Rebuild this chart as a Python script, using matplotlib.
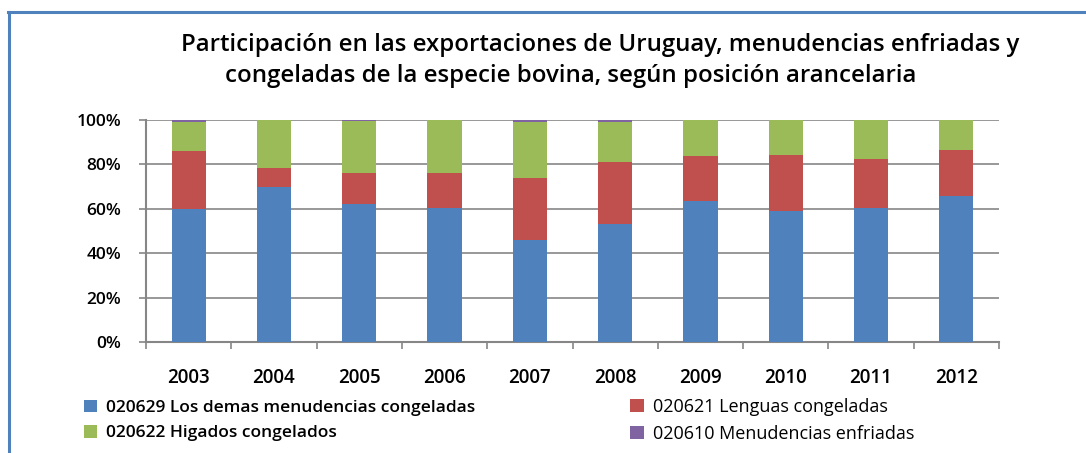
import matplotlib
matplotlib.use("Agg")
import matplotlib.pyplot as plt
from matplotlib.patches import Patch
from matplotlib.lines import Line2D
import numpy as np

years = ["2003", "2004", "2005", "2006", "2007", "2008", "2009", "2010", "2011", "2012"]
s_020629 = [59.8, 69.8, 62.3, 60.4, 46.1, 53.3, 63.5, 59.0, 60.4, 65.9]
s_020621 = [26.2, 8.6, 13.8, 15.7, 27.8, 27.8, 20.3, 25.2, 22.0, 20.6]
s_020622 = [13.3, 21.6, 23.3, 23.9, 25.3, 18.2, 16.2, 15.8, 17.6, 13.5]
s_020610 = [0.7, 0.0, 0.6, 0.0, 0.8, 0.7, 0.0, 0.0, 0.0, 0.0]
series_names = ["020629 Los demas menudencias congeladas",
                "020621 Lenguas congeladas",
                "020622 Higados congelados",
                "020610 Menudencias enfriadas"]
yticks = [0, 20, 40, 60, 80, 100]
ytick_labels = ["0%", "20%", "40%", "60%", "80%", "100%"]
title_line1 = "Participación en las exportaciones de Uruguay, menudencias enfriadas y"
title_line2 = "congeladas de la especie bovina, según posición arancelaria"

colors = ["#4F81BD", "#C0504D", "#9BBB59", "#8064A2"]
FONT = "Open Sans"

W, H = 1086, 453
fig = plt.figure(figsize=(W / 100, H / 100), dpi=100)
fig.patch.set_facecolor("white")
ax = fig.add_axes([146 / W, 1 - 342 / H, (999 - 146) / W, (342 - 120) / H])

x = np.arange(len(years))
data = [s_020629, s_020621, s_020622, s_020610]
bottom = np.zeros(len(years))
for vals, c in zip(data, colors):
    v = np.array(vals)
    ax.bar(x, v, bottom=bottom, width=0.4, color=c, zorder=3)
    bottom += v

ax.set_xlim(-0.5, len(years) - 0.5)
ax.set_ylim(0, 100)
ax.set_yticks(yticks)
ax.set_yticklabels(ytick_labels, fontfamily=FONT, fontsize=12.5, fontweight="semibold")
ax.set_xticks(x)
ax.set_xticklabels(years, fontfamily=FONT, fontsize=13.5, fontweight="semibold")
ax.set_xticks(np.arange(-0.5, len(years)), minor=True)
ax.tick_params(axis="x", which="major", length=0, pad=19)
ax.tick_params(axis="x", which="minor", length=5, color="#868686", width=1.2)
ax.tick_params(axis="y", length=5, color="#868686", width=1.2, pad=13)
ax.yaxis.grid(True, color="#868686", linewidth=1.2, zorder=0)
ax.set_axisbelow(True)
for s in ["top", "right"]:
    ax.spines[s].set_visible(False)
for s in ["left", "bottom"]:
    ax.spines[s].set_color("#868686")
    ax.spines[s].set_linewidth(1.5)

tprops = dict(ha="center", va="center", fontfamily=FONT, fontsize=17.3, fontweight="semibold")
fig.text(600 / W, 1 - 45 / H, title_line1, **tprops)
fig.text(571 / W, 1 - 76 / H, title_line2, **tprops)

handles = [Patch(facecolor=c, edgecolor="none") for c in colors]
common = dict(loc="center left", frameon=False, handlelength=0.75, handleheight=0.75,
              handletextpad=0.5, labelspacing=0.5, borderaxespad=0, borderpad=0)
leg1 = fig.legend([handles[0], handles[2]], [series_names[0], series_names[2]],
                  bbox_to_anchor=(84 / W, 1 - 420.5 / H),
                  prop={"family": FONT, "size": 12.5, "weight": "semibold"}, **common)
leg2 = fig.legend([handles[1], handles[3]], [series_names[1], series_names[3]],
                  bbox_to_anchor=(630 / W, 1 - 420.5 / H),
                  prop={"family": FONT, "size": 13}, **common)

# outer frame (blue border)
fig.add_artist(Line2D([8.5 / W, 8.5 / W], [0, 1 - 11.5 / H], transform=fig.transFigure,
                      color="#4F81BD", linewidth=2.2))
fig.add_artist(Line2D([7.5 / W, 1], [1 - 11.5 / H, 1 - 11.5 / H], transform=fig.transFigure,
                      color="#4F81BD", linewidth=2.2))

fig.savefig("out.png", dpi=100, facecolor="white")
